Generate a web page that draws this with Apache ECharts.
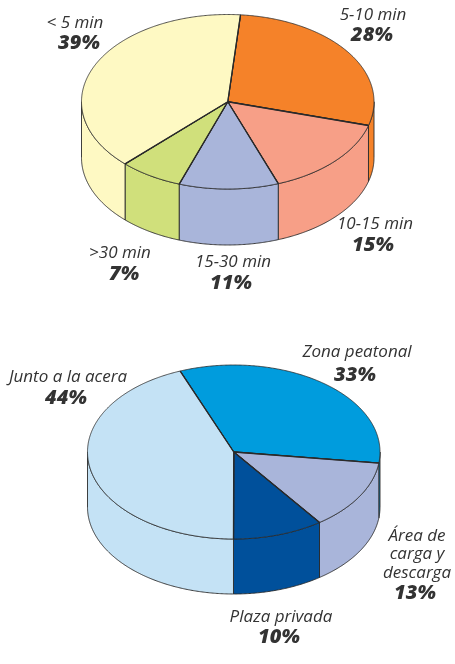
<!DOCTYPE html>
<html>
<head>
<meta charset="utf-8">
<style>html,body{margin:0;padding:0;background:#fff}#c{width:455px;height:664px}</style>
<script src="https://cdn.jsdelivr.net/npm/echarts@6/dist/echarts.min.js"></script>
</head>
<body>
<div id="c"></div>
<script>
// Data
const timeCategories = ['5-10 min', '10-15 min', '15-30 min', '>30 min', '< 5 min'];
const timeValues = [28, 15, 11, 7, 39];
const placeCategories = ['Zona peatonal', 'Área de\ncarga y\ndescarga', 'Plaza privada', 'Junto a la acera'];
const placeValues = [33, 13, 10, 44];

// Styles and layout
const timeColors = ['#F58229', '#F79F87', '#A9B5DA', '#D0E07B', '#FEF9C3'];
const placeColors = ['#009CDD', '#A9B5DA', '#00509B', '#C4E2F5'];
const timeLabelPos = [[373, 15, 372, 35], [375, 224, 373, 245], [233, 262, 231, 283], [120, 253, 124, 274], [75, 23, 79, 43]];
const placeLabelPos = [[357, 352, 355, 375], [417, 536, 415, 593], [281, 617, 279, 637], [68, 377, 66, 398]];
const LINE = '#2a2a2a', TEXT = '#333', FONT = '"Open Sans"';
const LINE_GAP = 18.5;

function arc(api, a, b, dy) {
  const pts = [];
  const n = Math.max(2, Math.ceil((b - a) * 2));
  for (let i = 0; i <= n; i++) {
    const t = (a + (b - a) * i / n) * Math.PI / 180;
    const p = api.coord([Math.sin(t), Math.cos(t)]);
    pts.push([p[0], p[1] + dy]);
  }
  return pts;
}

function pieSeries(axis, names, values, colors, startAngle, labelPos, depth) {
  const total = values.reduce((s, v) => s + v, 0);
  const angles = [startAngle];
  values.forEach(v => angles.push(angles[angles.length - 1] + v / total * 360));
  const data = values.map(v => [0, 0, v]);
  const base = { type: 'custom', coordinateSystem: 'cartesian2d', xAxisIndex: axis, yAxisIndex: axis, data, silent: true, clip: false, animation: false };
  return [
    Object.assign({}, base, { z: 1, renderItem(params, api) {
      const i = params.dataIndex;
      const a = Math.max(angles[i], 90), b = Math.min(angles[i + 1], 270);
      if (b <= a) return { type: 'group', children: [] };
      const up = arc(api, a, b, 0), down = arc(api, a, b, depth).reverse();
      return { type: 'polygon', shape: { points: up.concat(down) },
        style: { fill: colors[i], stroke: LINE, lineWidth: 0.9, lineJoin: 'round' } };
    }}),
    Object.assign({}, base, { z: 2, renderItem(params, api) {
      const i = params.dataIndex;
      const pts = arc(api, angles[i], angles[i + 1], 0);
      const c = api.coord([0, 0]);
      return { type: 'group', children: [
        { type: 'polygon', shape: { points: [c].concat(pts) },
          style: { fill: colors[i], stroke: LINE, lineWidth: 0.8, lineJoin: 'round' } },
        { type: 'polyline', shape: { points: [pts[0], c, pts[pts.length - 1]] },
          style: { fill: null, stroke: LINE, lineWidth: 1.3, lineJoin: 'round' } }
      ] };
    }}),
    Object.assign({}, base, { z: 3, renderItem(params, api) {
      const i = params.dataIndex;
      const p = labelPos[i];
      const lines = names[i].split('\n');
      const children = lines.map((t, k) => ({ type: 'text', style: {
        text: t, x: p[0], y: p[1] + k * LINE_GAP, align: 'center', verticalAlign: 'middle',
        font: 'italic 400 17px ' + FONT, fill: TEXT } }));
      children.push({ type: 'text', style: {
        text: api.value(2) + '%', x: p[2], y: p[3], align: 'center', verticalAlign: 'middle',
        font: 'italic 800 20px ' + FONT, fill: TEXT } });
      return { type: 'group', children };
    }})
  ];
}

const chart = echarts.init(document.getElementById('c'), null, { renderer: 'canvas' });
const hiddenAxis = i => ({ type: 'value', min: -1, max: 1, show: false, gridIndex: i });
chart.setOption({
  backgroundColor: '#fff',
  animation: false,
  tooltip: { show: false },
  grid: [
    { left: 81.5, top: 14.5, width: 292.5, height: 174.5 },
    { left: 87.5, top: 365, width: 292.5, height: 174 }
  ],
  xAxis: [hiddenAxis(0), hiddenAxis(1)],
  yAxis: [hiddenAxis(0), hiddenAxis(1)],
  series: [
    ...pieSeries(0, timeCategories, timeValues, timeColors, 5, timeLabelPos, 56),
    ...pieSeries(1, placeCategories, placeValues, placeColors, -21.5, placeLabelPos, 55)
  ]
});
</script>
</body>
</html>
